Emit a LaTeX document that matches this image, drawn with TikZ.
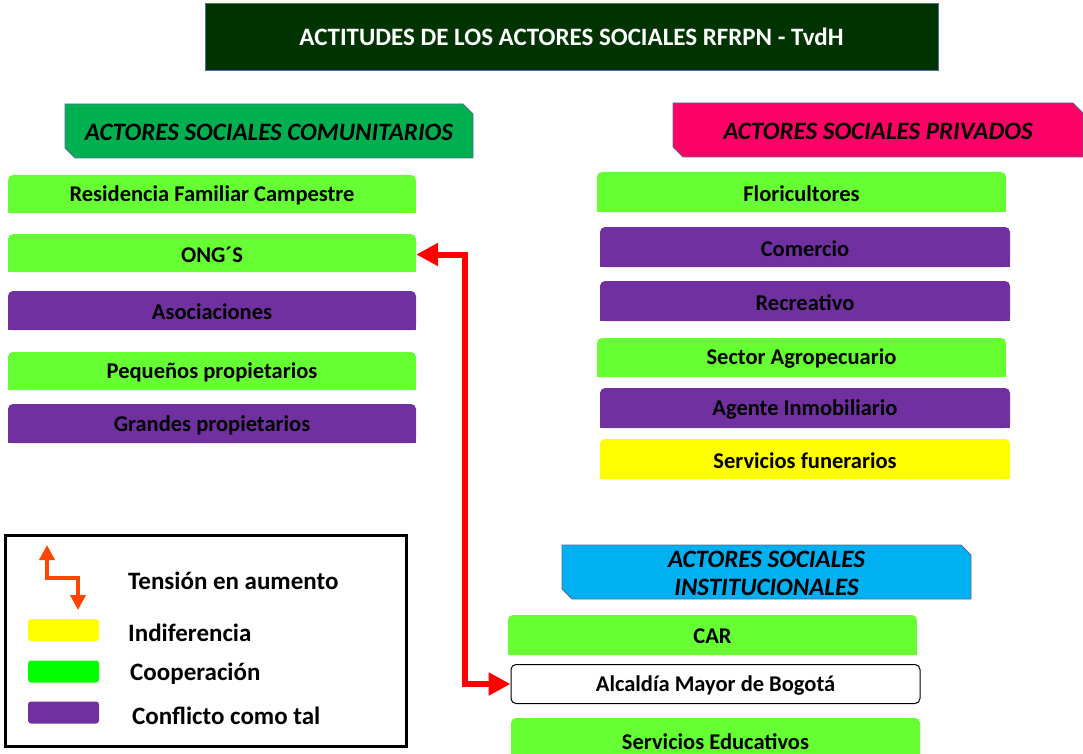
\documentclass[tikz,border=0pt]{standalone}
\usepackage{fontspec}
\setmainfont{Carlito}
\usetikzlibrary{arrows.meta,calc}
\definecolor{titlegreen}{RGB}{0,51,0}
\definecolor{hdgreen}{RGB}{0,176,80}
\definecolor{hdpink}{RGB}{255,0,102}
\definecolor{hdblue}{RGB}{0,176,240}
\definecolor{hdborder}{RGB}{80,110,150}
\definecolor{coop}{RGB}{102,255,51}
\definecolor{confl}{RGB}{112,48,160}
\definecolor{indif}{RGB}{255,255,0}
\definecolor{legcoop}{RGB}{0,255,0}
\definecolor{tension}{RGB}{255,69,0}
\tikzset{
  lbl/.style={inner sep=0pt, font=\fontsize{22.5}{26}\selectfont\bfseries, text=black},
  hdtext/.style={inner sep=0pt, font=\fontsize{25}{28}\selectfont\bfseries\itshape, text=black, align=center},
  legtext/.style={anchor=west, inner sep=0pt, font=\fontsize{25}{28}\selectfont\bfseries},
  redarrow/.style={draw=red, line width=6pt, {Triangle[length=22pt,width=22pt]}-{Triangle[length=22pt,width=22pt]}},
  tensarrow/.style={draw=tension, line width=4.5pt, {Triangle[length=15pt,width=15pt]}-{Triangle[length=15pt,width=15pt]}},
  swatch/.style={minimum width=71pt, minimum height=22pt, inner sep=0pt, rounded corners=3pt},
}
% box: name, x1, y1, x2, y2, colour, text
\newcommand\actbox[7]{%
  \fill[#6, rounded corners=5pt] (#2,#3) rectangle (#4,#5);
  \fill[#6] (#2,{(#3+#5)/2}) rectangle (#4,#5);
  \node[lbl, minimum width={(#4-#2)*1pt}, minimum height={(#5-#3)*1pt}] (#1) at ({(#2+#4)/2},{(#3+#5)/2+1.5}) {#7};}
% header: name, x1, y1, x2, y2, colour, text
\newcommand\hdbox[7]{%
  \filldraw[fill=#6, draw=hdborder, line width=0.8pt] (#2,#3) -- ({#4-10},#3) -- (#4,{#3+10}) -- (#4,#5) -- ({#2+10},#5) -- (#2,{#5-10}) -- cycle;
  \node[hdtext] (#1) at ({(#2+#4)/2},{(#3+#5)/2+1}) {#7};}
\begin{document}
\begin{tikzpicture}[x=1pt,y=-1pt]
\path[use as bounding box, clip] (0,0) rectangle (1083,754);
\fill[white] (0,0) rectangle (1083,754);
% title
\node[fill=titlegreen, draw=hdborder, line width=0.8pt, minimum width=733pt, minimum height=67pt, inner sep=0pt,
  text=white, font=\fontsize{25}{28}\selectfont\bfseries] (title) at (571.5,36.5) {ACTITUDES DE LOS ACTORES SOCIALES RFRPN - TvdH};
% headers
\hdbox{hcom}{65}{104}{473}{158}{hdgreen}{ACTORES SOCIALES COMUNITARIOS}
\hdbox{hpri}{673}{103}{1083}{157}{hdpink}{ACTORES SOCIALES PRIVADOS}
\hdbox{hins}{562}{545}{971}{599}{hdblue}{ACTORES SOCIALES\\INSTITUCIONALES}
% comunitarios
\actbox{res}{8}{175}{416}{213}{coop}{Residencia Familiar Campestre}
\actbox{ong}{8}{234}{416}{272}{coop}{ONG´S}
\actbox{aso}{8}{291}{416}{330}{confl}{Asociaciones}
\actbox{peq}{8}{352}{416}{390}{coop}{Pequeños propietarios}
\actbox{gra}{8}{404}{416}{443}{confl}{Grandes propietarios}
% privados
\actbox{flo}{597}{172}{1006}{212}{coop}{Floricultores}
\actbox{com}{600}{227}{1010}{267}{confl}{Comercio}
\actbox{rec}{600}{281}{1010}{321}{confl}{Recreativo}
\actbox{agr}{597}{338}{1006}{377}{coop}{Sector Agropecuario}
\actbox{inm}{600}{388}{1010}{428}{confl}{Agente Inmobiliario}
\actbox{fun}{600}{439}{1010}{479}{indif}{Servicios funerarios}
% institucionales
\actbox{car}{508}{615}{917}{655}{coop}{CAR}
\node[lbl, draw=black, fill=white, line width=1pt, rounded corners=5pt, minimum width=409pt, minimum height=39pt, text depth=0pt] (alc) at (715.5,684) {Alcaldía Mayor de Bogotá};
\actbox{edu}{511}{718}{920}{762}{coop}{Servicios Educativos}
% tension arrow
\coordinate (bend) at (465,0);
\draw[redarrow] (ong.east) -- (ong.east -| bend) |- (alc.west);
% legend
\node[draw=black, line width=3pt, minimum width=401pt, minimum height=211pt, inner sep=0pt] (legend) at (205.5,640.5) {};
\coordinate (lta) at (47,545);
\coordinate (ltb) at (78,610);
\draw[tensarrow] (lta) -- (47,578) -- (78,578) -- (ltb);
\node[legtext] (t1) at (128,581) {Tensión en aumento};
\node[swatch, fill=indif] (s1) at (63.5,630) {};
\node[legtext] (t2) at (128,633) {Indiferencia};
\node[swatch, fill=legcoop] (s2) at (63.5,671.5) {};
\node[legtext] (t3) at (130,674) {Cooperación};
\node[swatch, fill=confl] (s3) at (63.5,712.5) {};
\node[legtext] (t4) at (132,716) {Conflicto como tal};
\end{tikzpicture}
\end{document}
